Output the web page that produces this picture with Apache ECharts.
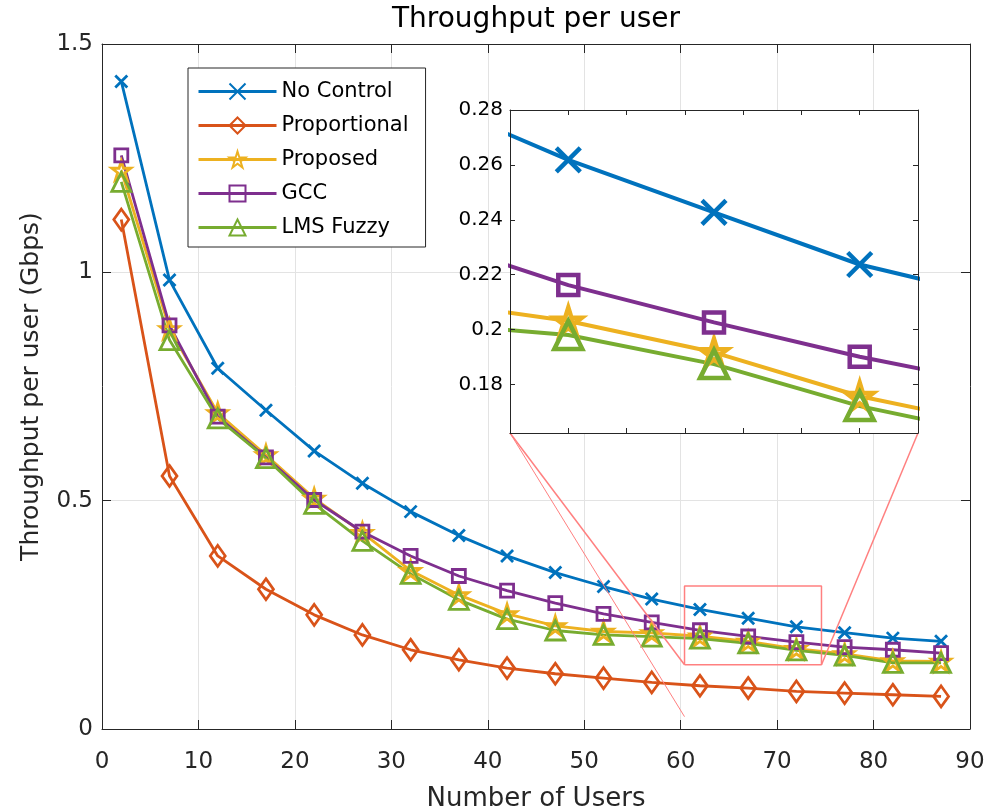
<!DOCTYPE html>
<html>
<head>
<meta charset="utf-8">
<script src="https://cdn.jsdelivr.net/npm/echarts@6/dist/echarts.min.js"></script>
<style>
html, body { margin: 0; padding: 0; background: #fff; }
#container { width: 1001px; height: 811px; }
</style>
</head>
<body>
<div id="container"></div>
<script>
// number of users on the x axis
var users = [2, 7, 12, 17, 22, 27, 32, 37, 42, 47, 52, 57, 62, 67, 72, 77, 82, 87];

// throughput per user (Gbps)
var noControl    = [1.418, 0.983, 0.790, 0.698, 0.609, 0.538, 0.476, 0.4235, 0.379, 0.3425, 0.312, 0.2846, 0.2618, 0.2427, 0.2237, 0.211, 0.199, 0.192];
var proportional = [1.1155, 0.554, 0.379, 0.306, 0.250, 0.206, 0.1735, 0.1516, 0.1334, 0.121, 0.1115, 0.102, 0.0947, 0.0897, 0.0823, 0.0787, 0.075, 0.0713];
var proposed     = [1.223, 0.876, 0.692, 0.600, 0.505, 0.430, 0.347, 0.2937, 0.252, 0.226, 0.2135, 0.2106, 0.2031, 0.1917, 0.1757, 0.1647, 0.149, 0.148];
var gcc          = [1.256, 0.884, 0.684, 0.595, 0.5015, 0.432, 0.379, 0.335, 0.303, 0.2756, 0.252, 0.2335, 0.2162, 0.2026, 0.1901, 0.1795, 0.1735, 0.166];
var lmsFuzzy     = [1.198, 0.8516, 0.680, 0.593, 0.4928, 0.412, 0.3397, 0.2828, 0.2406, 0.2157, 0.2063, 0.2025, 0.198, 0.1874, 0.1721, 0.161, 0.145, 0.145];

var names = ['No Control', 'Proportional', 'Proposed', 'GCC', 'LMS Fuzzy'];
var colors = ['#0072BD', '#D95319', '#EDB120', '#7E2F8E', '#77AC30'];
var values = [noControl, proportional, proposed, gcc, lmsFuzzy];

// zoomed window shown in the inset
var insetX = [60, 74];
var insetY = [0.1623, 0.28];
var zoomBoxX = [60.4, 74.6];
var zoomBoxY = [0.1406, 0.3134];
var guideEndY = 0.027;

var CROSS = 'path://M0,0L10,10M10,0L0,10';
var STAR = 'path://M100,0L122.45,69.1L195.1,69.1L136.33,111.8L158.8,180.9L100,138.2L41.2,180.9L63.67,111.8L4.9,69.1L77.55,69.1Z';
var symbols = [CROSS, 'diamond', STAR, 'rect', 'triangle'];
var mainSizes = [12, [15, 21], 19, 13, 19];
var insetSizes = [24, [22, 30], 27, 20, 28];

var FONT = 'DejaVu Sans';
var AX = '#262626';

var dom = document.getElementById('container');
var chart = echarts.init(dom, null, { renderer: 'canvas' });

function pairs(arr) {
    return users.map(function (u, i) { return [u, arr[i]]; });
}

function onGrid(v, step) {
    var r = v / step;
    return Math.abs(r - Math.round(r)) < 1e-6;
}

var series = [];
names.forEach(function (name, i) {
    series.push({
        name: name,
        type: 'line',
        xAxisIndex: 0,
        yAxisIndex: 0,
        data: pairs(values[i]),
        symbol: symbols[i],
        symbolSize: mainSizes[i],
        showAllSymbol: true,
        lineStyle: { color: colors[i], width: 2.8 },
        itemStyle: { color: 'none', borderColor: colors[i], borderWidth: 2.8 },
        z: 2
    });
});
names.forEach(function (name, i) {
    series.push({
        name: name,
        type: 'line',
        xAxisIndex: 2,
        yAxisIndex: 2,
        data: pairs(values[i]),
        symbol: symbols[i],
        symbolSize: insetSizes[i],
        showAllSymbol: true,
        clip: true,
        lineStyle: { color: colors[i], width: 4 },
        itemStyle: { color: 'none', borderColor: colors[i], borderWidth: 4.5 },
        z: 6
    });
});
series.push({
    name: 'zoom box',
    type: 'line',
    xAxisIndex: 0,
    yAxisIndex: 0,
    data: [[zoomBoxX[0], zoomBoxY[0]], [zoomBoxX[1], zoomBoxY[0]], [zoomBoxX[1], zoomBoxY[1]],
           [zoomBoxX[0], zoomBoxY[1]], [zoomBoxX[0], zoomBoxY[0]]],
    symbol: 'none',
    silent: true,
    lineStyle: { color: '#ff8080', width: 1.5 },
    z: 3
});

function boxAxis(extra) {
    var base = {
        type: 'value',
        axisLine: { show: true, onZero: false, lineStyle: { color: AX, width: 1 } },
        axisTick: { show: true, inside: true, length: 9, lineStyle: { color: AX } },
        axisLabel: { show: false },
        splitLine: { show: false }
    };
    return Object.assign(base, extra);
}

var labelStyle = { color: AX, fontFamily: FONT, fontSize: 23 };
var insetTick = { show: true, inside: true, length: 5, lineStyle: { color: AX } };

var option = {
    animation: false,
    backgroundColor: '#fff',
    grid: [
        { left: 102, right: 31, top: 44, bottom: 82, outerBoundsMode: 'none' },
        { left: 510, right: 83, top: 110, bottom: 378, outerBoundsMode: 'none',
          show: true, backgroundColor: '#fff', borderWidth: 0, z: 4 }
    ],
    legend: {
        data: names,
        orient: 'vertical',
        left: 188,
        top: 68,
        itemWidth: 78,
        itemHeight: 20,
        itemGap: 13,
        padding: [13, 17, 9, 9],
        backgroundColor: '#fff',
        borderColor: AX,
        borderWidth: 1,
        lineStyle: { width: 3 },
        textStyle: { color: '#000', fontFamily: FONT, fontSize: 21 },
        z: 8
    },
    xAxis: [
        boxAxis({
            gridIndex: 0, position: 'bottom', min: 0, max: 90, interval: 10,
            name: 'Number of Users', nameLocation: 'middle', nameGap: 57,
            nameTextStyle: { color: AX, fontFamily: FONT, fontSize: 26 },
            axisLabel: Object.assign({ show: true, margin: 22 }, labelStyle),
            splitLine: { show: true, lineStyle: { color: '#e3e3e3', width: 1 } }
        }),
        boxAxis({
            gridIndex: 0, position: 'top', min: 0, max: 90, interval: 10,
            name: 'Throughput per user', nameLocation: 'middle', nameGap: 10,
            nameTextStyle: { color: '#000', fontFamily: FONT, fontSize: 28 }
        }),
        boxAxis({
            gridIndex: 1, position: 'bottom', min: insetX[0], max: insetX[1], interval: 2, z: 7,
            axisTick: insetTick
        }),
        boxAxis({
            gridIndex: 1, position: 'top', min: insetX[0], max: insetX[1], interval: 2, z: 7,
            axisTick: insetTick
        })
    ],
    yAxis: [
        boxAxis({
            gridIndex: 0, position: 'left', min: 0, max: 1.5, interval: 0.5,
            name: 'Throughput per user (Gbps)', nameLocation: 'middle', nameGap: 58,
            nameTextStyle: { color: AX, fontFamily: FONT, fontSize: 25 },
            axisLabel: Object.assign({ show: true, margin: 9 }, labelStyle),
            splitLine: { show: true, lineStyle: { color: '#e3e3e3', width: 1 } }
        }),
        boxAxis({ gridIndex: 0, position: 'right', min: 0, max: 1.5, interval: 0.5 }),
        boxAxis({
            gridIndex: 1, position: 'left', min: insetY[0], max: insetY[1], splitNumber: 5, z: 7,
            axisTick: insetTick,
            axisLabel: {
                show: true, margin: 7, color: '#000', fontFamily: FONT, fontSize: 20,
                formatter: function (v) { return onGrid(v, 0.02) ? String(+v.toFixed(2)) : ''; }
            }
        }),
        boxAxis({
            gridIndex: 1, position: 'right', min: insetY[0], max: insetY[1], splitNumber: 5, z: 7,
            axisTick: insetTick
        })
    ],
    series: series
};

chart.setOption(option);

// guide lines from the inset corners to the zoom box
var insetBL = chart.convertToPixel({ xAxisIndex: 2, yAxisIndex: 2 }, [insetX[0], insetY[0]]);
var insetBR = chart.convertToPixel({ xAxisIndex: 2, yAxisIndex: 2 }, [insetX[1], insetY[0]]);
var boxBL = chart.convertToPixel({ xAxisIndex: 0, yAxisIndex: 0 }, [zoomBoxX[0], zoomBoxY[0]]);
var boxBR = chart.convertToPixel({ xAxisIndex: 0, yAxisIndex: 0 }, [zoomBoxX[1], zoomBoxY[0]]);
var guideEnd = chart.convertToPixel({ xAxisIndex: 0, yAxisIndex: 0 }, [zoomBoxX[0], guideEndY]);

function guide(a, b, w) {
    return {
        type: 'line', silent: true, z: 5,
        shape: { x1: a[0], y1: a[1], x2: b[0], y2: b[1] },
        style: { stroke: '#ff8080', lineWidth: w }
    };
}

chart.setOption({
    graphic: [
        guide(insetBL, boxBL, 1.5),
        guide(insetBL, guideEnd, 1),
        guide(insetBR, boxBR, 1.5)
    ]
});

window.addEventListener('resize', chart.resize);
</script>
</body>
</html>
